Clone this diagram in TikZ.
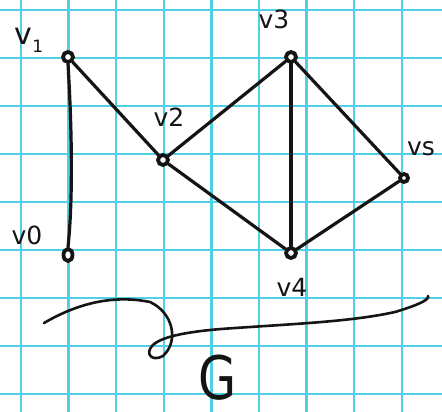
\documentclass[tikz,border=0pt]{standalone}
\usepackage{fontspec}
\usetikzlibrary{shapes.geometric}
\setmainfont{DejaVu Sans}
\definecolor{gridc}{RGB}{80,208,228}
\definecolor{ink}{RGB}{20,20,20}
\tikzset{
  gridline/.style={draw=gridc, line width=2.4pt},
  edge/.style={draw=ink, line width=3.2pt, line cap=round},
  vert/.style={circle, draw=ink, line width=3.8pt, fill=white, inner sep=0pt, minimum size=10pt},
  lab/.style={text=ink, inner sep=0pt, font=\fontsize{25}{25}\selectfont},
}
\begin{document}
\begin{tikzpicture}[x=1pt,y=-1pt]
\useasboundingbox (0,0) rectangle (442,412);
\fill[white] (0,0) rectangle (442,412);
% grid
\foreach \x in {21,68.6,116.2,163.8,211.4,259,306.6,354.2,401.8}
  \draw[gridline] (\x,0) -- (\x,412);
\foreach \y in {10,58,106,154,202,250,298,346,394}
  \draw[gridline] (0,\y) -- (442,\y);
% vertices
\node[vert] (v1) at (68,57) {};
\node[vert] (v2) at (163,160) {};
\node[vert] (v3) at (291,57) {};
\node[vert] (v4) at (291,253) {};
\node[vert, minimum size=8pt] (v5) at (404,178) {};
\node[vert, ellipse, minimum width=9pt, minimum height=12pt] (v0) at (68,255) {};
% edges
\draw[edge] (v1.south) .. controls (72,130) and (73,200) .. (v0.north);
\draw[edge] (v1) -- (v2);
\draw[edge] (v2) -- (v3);
\draw[edge] (v2) -- (v4);
\draw[edge] (v3) -- (v4);
\draw[edge] (v3) -- (v5);
\draw[edge] (v4) -- (v5);
% labels
\node[lab, font=\fontsize{30}{30}\selectfont] (l1) at (29,40) {v\raisebox{-8pt}{\fontsize{17}{17}\selectfont 1}};
\node[lab] (l2) at (169,117) {v2};
\node[lab] (l3) at (274,19) {v3};
\node[lab] (l5) at (421,149) {vs};
\node[lab] (l0) at (27,235) {v0};
\node[lab] (l4) at (292,287) {v4};
\node[text=ink, inner sep=0pt, anchor=base, font=\fontsize{60}{60}\selectfont] (g) at (218,399) {\scalebox{0.82}[1]{G}};
% underline swirl
\coordinate (s0) at (44,323);
\coordinate (s1) at (428,296);
\draw[edge, line width=2.6pt] (s0) .. controls (80,302) and (115,295) .. (150,302)
  .. controls (172,312) and (180,340) .. (163,356)
  .. controls (152,362) and (145,354) .. (152,346)
  .. controls (160,337) and (185,332) .. (221,329)
  .. controls (290,324) and (350,322) .. (395,312)
  .. controls (415,306) and (430,300) .. (s1);
\end{tikzpicture}
\end{document}
